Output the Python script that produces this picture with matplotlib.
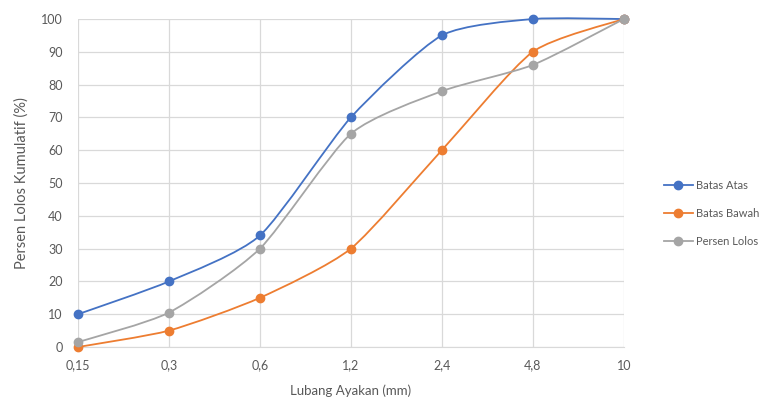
import matplotlib
matplotlib.use("Agg")
import matplotlib.pyplot as plt
import numpy as np
from matplotlib.path import Path
from matplotlib.patches import PathPatch
from matplotlib.lines import Line2D

plt.rcParams["font.family"] = ["Lato", "DejaVu Sans"]

sizes = ["0,15", "0,3", "0,6", "1,2", "2,4", "4,8", "10"]
batas_atas = [10, 20, 34, 70, 95, 100, 100]
batas_bawah = [0, 5, 15, 30, 60, 90, 100]
persen_lolos = [1.5, 10.5, 30, 65, 78, 86, 100]

SERIES = [
    ("Batas Atas", batas_atas, "#4472C4"),
    ("Batas Bawah", batas_bawah, "#ED7D31"),
    ("Persen Lolos", persen_lolos, "#A5A5A5"),
]
TEXT_COLOR = "#595959"
GRID_COLOR = "#D9D9D9"
LW = 1.3


def smooth_path(ax, xs, ys, t=0.11):
    # smoothed line: cubic beziers built in display space
    pts = ax.transData.transform(np.column_stack([xs, ys]))
    n = len(pts)
    verts = [pts[0]]
    codes = [Path.MOVETO]
    for i in range(n - 1):
        p0 = pts[max(i - 1, 0)]
        p1 = pts[i]
        p2 = pts[i + 1]
        p3 = pts[min(i + 2, n - 1)]
        c1 = p1 + (p2 - p0) * t
        c2 = p2 - (p3 - p1) * t
        verts += [c1, c2, p2]
        codes += [Path.CURVE4] * 3
    verts = ax.transData.inverted().transform(np.array(verts))
    return Path(verts, codes)


fig = plt.figure(figsize=(7.83, 4.05), dpi=100)
ax = fig.add_axes([0.0996, 0.1432, 0.697, 0.8098])
x = np.arange(len(sizes))
ax.set_xlim(0, len(sizes) - 1)
ax.set_ylim(0, 100)

ax.set_xticks(x)
ax.set_xticklabels(sizes)
ax.set_yticks(np.arange(0, 101, 10))
ax.grid(True, color=GRID_COLOR, linewidth=0.9)
ax.set_axisbelow(True)
for name, spine in ax.spines.items():
    spine.set_visible(name == "bottom")
ax.spines["bottom"].set_color(GRID_COLOR)
ax.tick_params(axis="both", length=0, labelsize=9, colors=TEXT_COLOR)
ax.tick_params(axis="x", pad=9)
ax.tick_params(axis="y", pad=11)

handles = []
for name, vals, color in SERIES:
    patch = PathPatch(smooth_path(ax, x, vals), facecolor="none",
                      edgecolor=color, linewidth=LW, zorder=3, clip_on=False)
    ax.add_patch(patch)
    ax.plot(x, vals, linestyle="none", marker="o", markersize=6,
            color=color, zorder=4, clip_on=False)
    handles.append(Line2D([], [], color=color, linewidth=LW, marker="o",
                          markersize=6, label=name))

ax.set_xlabel("Lubang Ayakan (mm)", fontsize=9.5, color=TEXT_COLOR, labelpad=9)
ax.set_ylabel("Persen Lolos Kumulatif (%)", fontsize=10.5, color=TEXT_COLOR, labelpad=9)

fig.legend(handles=handles, loc="center left", bbox_to_anchor=(0.835, 0.473),
           frameon=False, fontsize=8, labelcolor=TEXT_COLOR, handlelength=2.6,
           handletextpad=0.3, labelspacing=1.5)

fig.savefig("out.png", dpi=100)
